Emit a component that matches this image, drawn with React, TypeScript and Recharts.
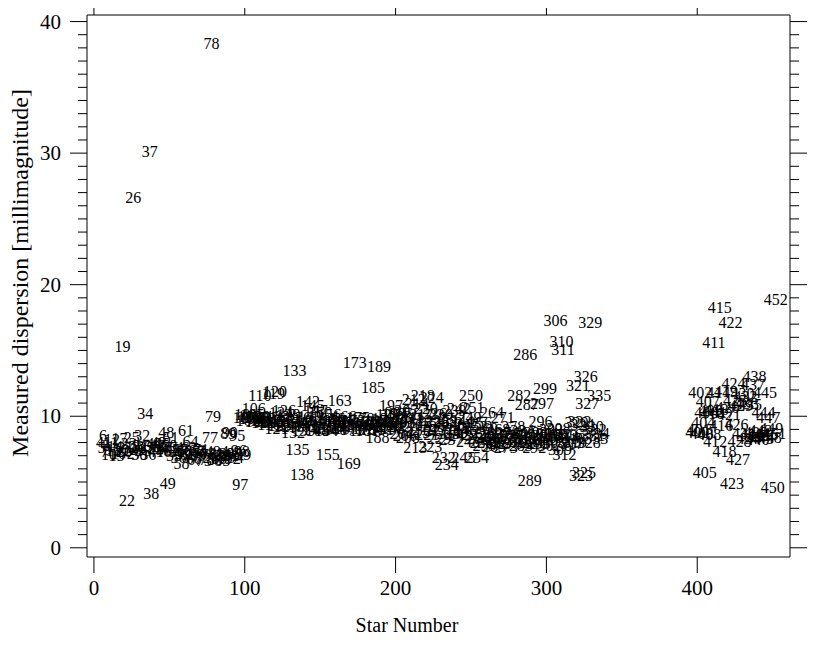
import { Label, Scatter, ScatterChart, XAxis, YAxis } from "recharts";

// star numbers run 4..335 and 400..452
const firstBlockStart = 4;
const firstBlockValues = [
  8.0, 7.6, 8.5, 7.3, 7.8, 7.5, // 4-9
  7.1, 8.0, 8.2, 7.4, 7.7, 7.0, 7.2, 8.3, 7.5, 15.3, // 10-19
  7.3, 7.6, 3.6, 7.9, 7.4, 8.4, 26.6, 7.2, 7.7, 7.5, // 20-29
  7.1, 7.8, 8.5, 7.4, 10.2, 7.6, 7.1, 30.1, 4.1, 7.7, // 30-39
  7.9, 7.3, 7.8, 8.0, 7.5, 7.9, 7.3, 7.6, 8.8, 4.9, // 40-49
  7.8, 8.4, 7.4, 7.0, 7.6, 7.3, 6.9, 7.5, 6.4, 7.2, // 50-59
  7.4, 8.9, 7.1, 7.6, 8.1, 7.3, 6.8, 6.7, 7.4, 7.0, // 60-69
  7.2, 7.5, 6.9, 6.6, 7.3, 6.7, 7.1, 8.4, 38.3, 10.0, // 70-79
  6.7, 7.2, 7.0, 6.8, 7.3, 6.6, 7.0, 6.9, 7.2, 8.7, // 80-89
  8.8, 7.0, 6.8, 7.2, 6.9, 8.5, 7.4, 4.8, 7.3, 7.1, // 90-99
  9.9, 10.1, 9.7, 10.0, 9.8, 10.1, 10.6, 9.9, 9.6, 10.0, // 100-109
  11.6, 9.7, 9.5, 9.8, 9.6, 9.9, 9.4, 9.7, 9.5, 11.7, // 110-119
  11.9, 9.1, 10.0, 9.3, 10.3, 9.6, 10.4, 9.2, 9.8, 10.1, // 120-129
  9.4, 9.7, 8.8, 13.5, 9.5, 7.5, 9.9, 9.2, 5.6, 8.9, // 130-139
  9.6, 9.3, 11.1, 10.0, 9.5, 10.8, 9.0, 10.4, 8.9, 9.7, // 140-149
  10.3, 9.4, 9.8, 9.1, 8.9, 7.1, 10.1, 9.5, 9.2, 9.7, // 150-159
  9.0, 9.6, 9.3, 11.2, 9.8, 9.4, 10.0, 9.1, 9.5, 6.4, // 160-169
  9.3, 9.0, 9.7, 14.1, 9.2, 9.9, 9.4, 8.9, 9.8, 9.1, // 170-179
  9.5, 8.9, 9.3, 9.6, 9.0, 12.2, 9.4, 9.7, 8.4, 13.8, // 180-189
  9.5, 9.0, 9.8, 9.2, 9.6, 10.1, 9.4, 10.8, 9.1, 10.2, // 190-199
  9.6, 10.3, 9.2, 10.0, 8.7, 9.5, 8.5, 10.4, 8.4, 9.8, // 200-209
  9.3, 9.9, 11.3, 7.6, 11.0, 8.8, 9.5, 10.1, 11.6, 9.0, // 210-219
  10.6, 8.6, 9.7, 7.7, 11.4, 9.2, 10.2, 8.9, 9.6, 8.3, // 220-229
  10.1, 9.0, 6.9, 9.5, 6.3, 8.7, 9.8, 8.2, 9.3, 10.4, // 230-239
  8.8, 9.1, 10.6, 8.5, 9.6, 6.9, 8.9, 9.4, 8.1, 9.9, // 240-249
  11.6, 10.7, 8.6, 9.2, 6.9, 8.3, 9.5, 8.0, 8.8, 7.8, // 250-259
  9.1, 8.4, 8.0, 8.7, 10.3, 7.7, 8.5, 8.2, 9.0, 7.9, // 260-269
  8.6, 9.9, 8.1, 7.6, 8.8, 8.3, 7.9, 8.5, 9.2, 8.0, // 270-279
  8.7, 8.2, 11.6, 7.8, 8.9, 8.4, 14.7, 10.9, 8.1, 5.1, // 280-289
  8.6, 8.0, 7.6, 8.8, 8.3, 7.9, 9.6, 11.0, 8.5, 12.1, // 290-299
  8.2, 8.7, 7.8, 9.0, 8.4, 8.0, 17.3, 8.6, 9.1, 7.5, // 300-309
  15.7, 15.1, 7.1, 8.5, 8.4, 8.1, 8.6, 7.9, 8.3, 8.0, // 310-319
  9.5, 12.3, 9.6, 5.5, 9.4, 5.7, 13.0, 11.0, 8.0, 17.1, // 320-329
  9.2, 8.5, 9.0, 8.3, 8.7, 11.6, // 330-335
];

const secondBlockStart = 400;
const secondBlockValues = [
  8.8, 9.0, 11.8, 8.7, 9.5, 5.7, 10.3, 11.1, 8.6, 10.4, // 400-409
  10.2, 15.6, 8.1, 10.5, 11.8, 18.3, 9.3, 10.3, 7.3, 11.9, // 410-419
  10.7, 10.1, 17.1, 4.9, 12.5, 11.2, 9.4, 6.7, 8.1, 10.8, // 420-429
  11.7, 8.7, 11.5, 11.0, 8.3, 10.9, 8.6, 12.4, 13.0, 8.8, // 430-439
  8.2, 8.5, 8.9, 8.3, 10.3, 11.8, 8.6, 9.9, 8.4, 9.1, // 440-449
  4.6, 8.7, 18.9, // 450-452
];

const xTicks = [0, 100, 200, 300, 400];
const yMajorTicks = [0, 10, 20, 30, 40];
const yMinorTicks = Array.from({ length: 41 }, (_, i) => i);

const X_DOMAIN: [number, number] = [-4.6, 461.5];
const Y_DOMAIN: [number, number] = [-0.7, 40.5];

const PLOT_LEFT = 87;
const PLOT_RIGHT = 790;
const PLOT_TOP = 15;
const PLOT_BOTTOM = 557;

const FONT = "'Liberation Serif', 'DejaVu Serif', serif";

const points = [
  ...firstBlockValues.map((value, i) => ({ star: firstBlockStart + i, value })),
  ...secondBlockValues.map((value, i) => ({ star: secondBlockStart + i, value })),
];

function StarLabel(props: any) {
  const { cx, cy, payload } = props;
  if (cx == null || cy == null) return null;
  return (
    <text x={cx} y={cy} textAnchor="middle" dominantBaseline="central" fontFamily={FONT} fontSize={16} fill="#000">
      {payload.star}
    </text>
  );
}

function LeftTick(props: any) {
  const { y, payload } = props;
  const major = yMajorTicks.includes(payload.value);
  return (
    <g>
      <line x1={PLOT_LEFT} x2={PLOT_LEFT - (major ? 17 : 9)} y1={y} y2={y} stroke="#000" />
      {major && (
        <text x={PLOT_LEFT - 26} y={y} textAnchor="end" dominantBaseline="central" fontFamily={FONT} fontSize={21} fill="#000">
          {payload.value}
        </text>
      )}
    </g>
  );
}

function RightTick(props: any) {
  const { y, payload } = props;
  const major = yMajorTicks.includes(payload.value);
  return <line x1={PLOT_RIGHT} x2={PLOT_RIGHT + (major ? 17 : 9)} y1={y} y2={y} stroke="#000" />;
}

function BottomTick(props: any) {
  const { x, payload } = props;
  return (
    <g>
      <line x1={x} x2={x} y1={PLOT_BOTTOM} y2={PLOT_BOTTOM + 16} stroke="#000" />
      <text x={x} y={PLOT_BOTTOM + 31} textAnchor="middle" dominantBaseline="central" fontFamily={FONT} fontSize={21} fill="#000">
        {payload.value}
      </text>
    </g>
  );
}

function TopTick(props: any) {
  const { x } = props;
  return <line x1={x} x2={x} y1={PLOT_TOP} y2={0} stroke="#000" />;
}

export default function App() {
  return (
    <div style={{ margin: -8, width: 831, height: 653, background: "#fff" }}>
      <ScatterChart width={831} height={653} margin={{ top: 0, right: 0, bottom: 0, left: 0 }}>
        <XAxis
          xAxisId="bottom"
          dataKey="star"
          type="number"
          domain={X_DOMAIN}
          allowDataOverflow
          ticks={xTicks}
          height={653 - PLOT_BOTTOM}
          axisLine={{ stroke: "#000" }}
          tickLine={false}
          tick={BottomTick}
          interval={0}
        >
          <Label
            content={() => (
              <text x={407} y={625} textAnchor="middle" dominantBaseline="central" fontFamily={FONT} fontSize={20} fill="#000">
                Star Number
              </text>
            )}
          />
        </XAxis>
        <XAxis
          xAxisId="top"
          orientation="top"
          dataKey="star"
          type="number"
          domain={X_DOMAIN}
          allowDataOverflow
          ticks={xTicks}
          height={PLOT_TOP}
          axisLine={{ stroke: "#000" }}
          tickLine={false}
          tick={TopTick}
          interval={0}
        />
        <YAxis
          yAxisId="left"
          dataKey="value"
          type="number"
          domain={Y_DOMAIN}
          allowDataOverflow
          ticks={yMinorTicks}
          width={PLOT_LEFT}
          axisLine={{ stroke: "#000" }}
          tickLine={false}
          tick={LeftTick}
          interval={0}
        >
          <Label
            content={() => (
              <text
                x={20}
                y={273}
                transform="rotate(-90 20 273)"
                textAnchor="middle"
                dominantBaseline="central"
                fontFamily={FONT}
                fontSize={24}
                fill="#000"
              >
                Measured dispersion [millimagnitude]
              </text>
            )}
          />
        </YAxis>
        <YAxis
          yAxisId="right"
          orientation="right"
          dataKey="value"
          type="number"
          domain={Y_DOMAIN}
          allowDataOverflow
          ticks={yMinorTicks}
          width={831 - PLOT_RIGHT}
          axisLine={{ stroke: "#000" }}
          tickLine={false}
          tick={RightTick}
          interval={0}
        />
        <Scatter
          data={points}
          xAxisId="bottom"
          yAxisId="left"
          dataKey="value"
          isAnimationActive={false}
          shape={StarLabel}
        />
      </ScatterChart>
    </div>
  );
}
